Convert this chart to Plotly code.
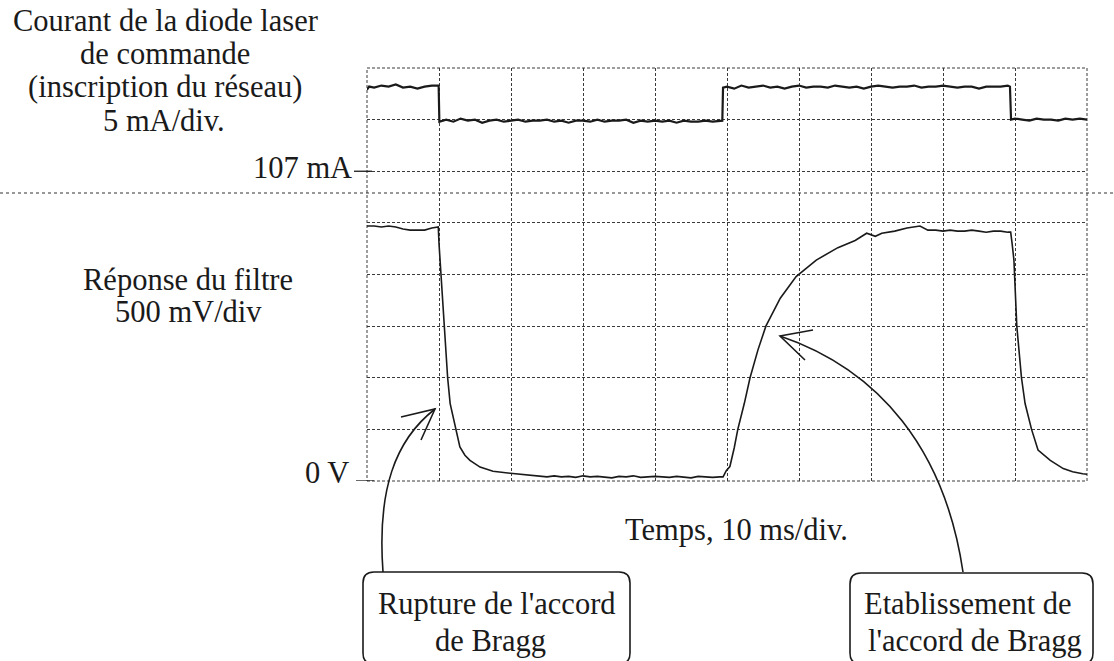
import plotly.graph_objects as go

# ---------------- data ----------------
# Upper trace: control laser-diode current (mA), 5 mA/div, 107 mA reference
time_cur_ms = [0, 0.3, 1, 2, 3, 4, 5, 6, 7, 8, 9, 9.95,
               10.05, 11, 12, 13, 14, 15, 16, 17, 18, 19, 20, 21, 22, 23, 24, 25, 26, 27, 28, 29,
               30, 31, 32, 33, 34, 35, 36, 37, 38, 39, 40, 41, 42, 43, 44, 45, 46, 47, 48, 49, 49.35,
               49.45, 50, 51, 52, 53, 54, 55, 56, 57, 58, 59, 60, 61, 62, 63, 64, 65, 66, 67, 68, 69,
               70, 71, 72, 73, 74, 75, 76, 77, 78, 79, 80, 81, 82, 83, 84, 85, 86, 87, 88, 89, 89.3,
               89.45, 90, 91, 92, 93, 94, 95, 96, 97, 98, 99, 100]
current_mA = [114.9, 115.2, 115.1, 115.3, 115.2, 115.4, 115.1, 115.2, 115.0, 115.2, 115.3, 115.3,
              111.8, 112.0, 111.8, 112.1, 111.9, 112.0, 111.7, 111.9, 112.0, 111.8, 111.9, 112.0, 111.8, 111.9, 111.9, 112.0, 111.8, 111.9, 111.7, 111.9,
              111.9, 111.8, 112.0, 111.8, 111.9, 111.9, 112.0, 111.7, 111.9, 111.8, 111.9, 111.8, 111.9, 111.7, 111.9, 111.8, 111.8, 111.9, 111.8, 111.9, 111.9,
              115.1, 115.2, 115.0, 115.3, 115.1, 115.2, 115.3, 115.1, 115.2, 115.0, 115.2, 115.3, 115.1, 115.2, 115.2, 115.1, 115.3, 115.2, 115.1, 115.2, 115.0,
              115.2, 115.3, 115.2, 115.1, 115.2, 115.2, 115.3, 115.1, 115.2, 115.2, 115.3, 115.2, 115.1, 115.2, 115.2, 115.0, 115.2, 115.2, 115.2, 115.3, 115.2,
              112.0, 112.1, 112.0, 111.9, 112.1, 112.0, 112.0, 111.9, 112.1, 112.0, 112.1, 112.0]

# Lower trace: filter response (V), 500 mV/div, 0 V reference
time_filt_ms = [0, 1, 2, 3, 4, 5, 6, 7, 8, 9, 9.9,
                10.0, 10.15, 10.35, 10.7, 11.2, 11.55, 12.35, 12.9, 13.6, 14.3, 15.7, 17.5, 19.9, 22.6,
                24, 25, 26, 27, 28, 29, 30, 31, 32, 33, 34, 35, 36, 37, 38, 39, 40, 41, 42, 43, 44, 45, 46, 47, 48, 49,
                49.45, 49.9, 50.4, 51.0, 51.5, 52.4, 53.2, 54.3, 55.4, 57.4, 59.6, 62.4, 65.4, 67.8, 69.4, 70.6, 71.5, 73.3, 75.0, 76.8, 77.9,
                79, 80, 81, 82, 83, 84, 85, 86, 87, 88, 89, 89.4,
                89.6, 89.85, 90.25, 90.9, 91.4, 92.3, 93.2, 94.9, 96.7, 98.0, 99.4, 100]
filter_V = [2.47, 2.47, 2.46, 2.47, 2.46, 2.44, 2.43, 2.43, 2.43, 2.45, 2.46,
            2.30, 2.14, 1.95, 1.50, 1.00, 0.75, 0.50, 0.33, 0.25, 0.20, 0.135, 0.095, 0.075, 0.055,
            0.05, 0.04, 0.05, 0.04, 0.045, 0.035, 0.05, 0.04, 0.045, 0.04, 0.03, 0.045, 0.04, 0.05, 0.035, 0.04, 0.045, 0.04, 0.035, 0.045, 0.04, 0.03, 0.045, 0.04, 0.035, 0.04,
            0.04, 0.10, 0.14, 0.32, 0.50, 0.75, 1.00, 1.27, 1.50, 1.77, 1.98, 2.14, 2.26, 2.33, 2.40, 2.37, 2.40, 2.42, 2.45, 2.47, 2.43,
            2.43, 2.42, 2.43, 2.42, 2.42, 2.43, 2.42, 2.41, 2.42, 2.42, 2.41, 2.41,
            2.30, 2.14, 1.50, 1.00, 0.75, 0.50, 0.30, 0.20, 0.12, 0.09, 0.07, 0.065]

time_range_ms = [0, 100]      # 10 ms/div, 10 divisions
volt_range = [0, 4]           # 500 mV/div, 8 divisions
current_range_mA = [77, 117]  # 5 mA/div, 107 mA on the 6th division

# ---------------- geometry helpers ----------------
W, H = 1114, 661
L, R, T, B = 367, 27, 68, 180
PW = W - L - R
PH = H - T - B


def px(x):
    return (x - L) / PW


def py(y):
    return (H - B - y) / PH


FONT = "Liberation Serif"
FS = 30.5
INK = "#1a1a1a"
GRID = "#3a3a3a"
GRID_DASH = "3px,2px"

fig = go.Figure()
fig.add_trace(go.Scatter(x=time_filt_ms, y=filter_V, mode="lines",
                         line=dict(color=INK, width=1.6), yaxis="y",
                         hoverinfo="skip", showlegend=False))
fig.add_trace(go.Scatter(x=time_cur_ms, y=current_mA, mode="lines",
                         line=dict(color=INK, width=2.2), yaxis="y2",
                         hoverinfo="skip", showlegend=False))

shapes = []
# dotted frame of the oscilloscope screen
shapes.append(dict(type="rect", xref="paper", yref="paper", x0=0, x1=1, y0=0, y1=1,
                   line=dict(color=GRID, width=1, dash=GRID_DASH), layer="below"))
# tick dashes for the references
shapes.append(dict(type="line", xref="paper", yref="y", x0=px(356), x1=px(374),
                   y0=0, y1=0, line=dict(color=INK, width=1.3)))
shapes.append(dict(type="line", xref="paper", yref="y2", x0=px(354), x1=px(372),
                   y0=107, y1=107, line=dict(color=INK, width=1.3)))
# separator between the two channels
shapes.append(dict(type="line", xref="paper", yref="paper", x0=px(0), x1=px(W),
                   y0=py(193), y1=py(193), line=dict(color="#333", width=1.2, dash="dot")))


def rounded_box(x0, y0, x1, y1, r=11):
    pts = [
        f"M {px(x0)},{py(y1 - r)}",
        f"L {px(x0)},{py(y0 + r)}",
        f"Q {px(x0)},{py(y0)} {px(x0 + r)},{py(y0)}",
        f"L {px(x1 - r)},{py(y0)}",
        f"Q {px(x1)},{py(y0)} {px(x1)},{py(y0 + r)}",
        f"L {px(x1)},{py(y1 - r)}",
        f"Q {px(x1)},{py(y1)} {px(x1 - r)},{py(y1)}",
        f"L {px(x0 + r)},{py(y1)}",
        f"Q {px(x0)},{py(y1)} {px(x0)},{py(y1 - r)}",
        "Z",
    ]
    return dict(type="path", xref="paper", yref="paper", path=" ".join(pts),
                line=dict(color=INK, width=1.6), fillcolor="rgba(0,0,0,0)")


shapes.append(rounded_box(363, 572, 630, 664))
shapes.append(rounded_box(850, 573, 1093, 664))


def curve(p0, c1, c2, p3):
    path = (f"M {px(p0[0])},{py(p0[1])} C {px(c1[0])},{py(c1[1])} "
            f"{px(c2[0])},{py(c2[1])} {px(p3[0])},{py(p3[1])}")
    return dict(type="path", xref="paper", yref="paper", path=path,
                line=dict(color=INK, width=1.6))


def head(tip, a, b):
    path = (f"M {px(a[0])},{py(a[1])} L {px(tip[0])},{py(tip[1])} "
            f"L {px(b[0])},{py(b[1])}")
    return dict(type="path", xref="paper", yref="paper", path=path,
                line=dict(color=INK, width=1.6))


shapes.append(curve((383, 572), (377, 490), (395, 440), (435, 409)))
shapes.append(head((435, 409), (401, 417), (421, 440)))
shapes.append(curve((963, 572), (945, 450), (880, 370), (780, 336)))
shapes.append(head((780, 336), (813, 330), (805, 360)))


def label(text, x, y, anchor="center"):
    return dict(text=text, x=px(x), y=py(y), xref="paper", yref="paper",
                xanchor=anchor, yanchor="middle", showarrow=False,
                font=dict(family=FONT, size=FS, color=INK))


annotations = [
    label("Courant de la diode laser", 165, 21),
    label("de commande", 165, 54),
    label("(inscription du réseau)", 165, 87),
    label("5 mA/div.", 164, 121),
    label("107 mA", 354, 168, "right"),
    label("Réponse du filtre", 188, 280),
    label("500 mV/div", 188, 312),
    label("0 V", 351, 473, "right"),
    label("Temps, 10 ms/div.", 736, 530),
    label("Rupture de l'accord", 497, 604),
    label("de Bragg", 490, 641),
    label("Etablissement de", 968, 604),
    label("l'accord de Bragg", 975, 641),
]

axis_common = dict(showticklabels=False, ticks="", zeroline=False, showline=False)

fig.update_layout(
    width=W, height=H,
    margin=dict(l=L, r=R, t=T, b=B, pad=0),
    paper_bgcolor="white", plot_bgcolor="white",
    showlegend=False,
    xaxis=dict(range=time_range_ms, dtick=10, showgrid=True, gridcolor=GRID,
               gridwidth=1, griddash=GRID_DASH, **axis_common),
    yaxis=dict(range=volt_range, dtick=0.5, showgrid=True, gridcolor=GRID,
               gridwidth=1, griddash=GRID_DASH, **axis_common),
    yaxis2=dict(range=current_range_mA, overlaying="y", side="left",
                showgrid=False, **axis_common),
    shapes=shapes,
    annotations=annotations,
)

fig.write_html("out.html", config={"displayModeBar": False},
               post_script="document.body.style.margin='0px';document.body.style.overflow='hidden';")
